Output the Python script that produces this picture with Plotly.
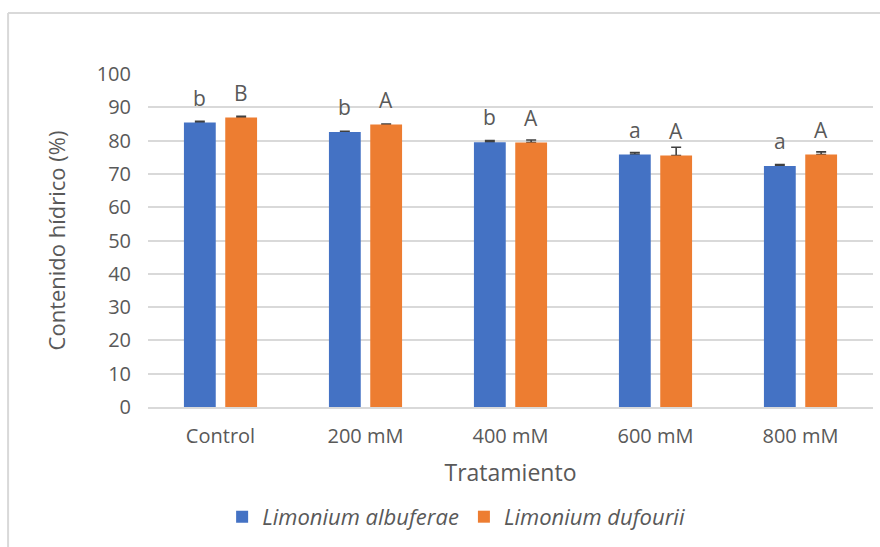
import plotly.graph_objects as go

# Treatments and water-content means (%) with their standard errors
tratamientos = ["Control", "200 mM", "400 mM", "600 mM", "800 mM"]
albuferae = [85.4, 82.6, 79.5, 75.8, 72.4]
albuferae_err = [0.4, 0.2, 0.5, 0.6, 0.4]
dufourii = [86.9, 84.8, 79.4, 75.5, 75.8]
dufourii_err = [0.4, 0.2, 0.8, 2.5, 0.8]
letras_albuferae = ["b", "b", "b", "a", "a"]
letras_dufourii = ["B", "A", "A", "A", "A"]

AZUL = "#4472C4"
NARANJA = "#ED7D31"
GRIS_TEXTO = "#595959"
GRIS_REJILLA = "#D9D9D9"
FUENTE = "Open Sans"

BARGAP = 0.43
BARGROUPGAP = 0.23

series = [
    ("<i>Limonium albuferae</i>", albuferae, albuferae_err, AZUL, "alb"),
    ("<i>Limonium dufourii</i>", dufourii, dufourii_err, NARANJA, "duf"),
]

fig = go.Figure()
# Upper error bars first (in transparent bars), so the solid bars cover their base
for nombre, valores, errores, color, grupo in series:
    fig.add_trace(go.Bar(
        x=tratamientos, y=valores, offsetgroup=grupo, showlegend=False,
        marker=dict(color="rgba(0,0,0,0)", line=dict(width=0)),
        hoverinfo="skip",
        error_y=dict(type="data", array=errores,
                     arrayminus=[0] * len(errores), symmetric=False,
                     visible=True, color="#404040", thickness=1.6, width=5),
    ))
for nombre, valores, errores, color, grupo in series:
    fig.add_trace(go.Bar(
        x=tratamientos, y=valores, name=nombre, offsetgroup=grupo,
        marker=dict(color=color, line=dict(width=0)),
    ))

# Significance letters above each bar
slot = (1 - BARGAP) / 2
for i in range(len(tratamientos)):
    for valor, letra, desplaz in [(albuferae[i], letras_albuferae[i], -slot / 2),
                                  (dufourii[i], letras_dufourii[i], slot / 2)]:
        fig.add_annotation(
            x=i + desplaz, y=valor, xref="x", yref="y", text=letra,
            showarrow=False, yanchor="bottom", yshift=9,
            font=dict(family=FUENTE, size=21, color=GRIS_TEXTO),
        )

# Light frame around the chart area
fig.add_shape(type="line", xref="paper", yref="paper",
              x0=-0.193, x1=-0.193, y0=1.183, y1=-0.6,
              line=dict(color=GRIS_REJILLA, width=2))
fig.add_shape(type="line", xref="paper", yref="paper",
              x0=-0.193, x1=1.2, y0=1.183, y1=1.183,
              line=dict(color=GRIS_REJILLA, width=2))

fig.update_layout(
    width=880, height=547,
    margin=dict(l=148, r=7, t=74, b=140),
    paper_bgcolor="white", plot_bgcolor="white",
    barmode="group", bargap=BARGAP, bargroupgap=BARGROUPGAP,
    font=dict(family=FUENTE, color=GRIS_TEXTO, size=21),
    showlegend=True,
    legend=dict(orientation="h", x=0.425, y=-0.33, xanchor="center",
                yanchor="middle", font=dict(size=22, color=GRIS_TEXTO),
                itemwidth=30, traceorder="normal"),
    xaxis=dict(
        showgrid=False, showline=True, linecolor=GRIS_REJILLA, linewidth=2,
        ticks="", ticklabelstandoff=10,
        tickfont=dict(size=20, color=GRIS_TEXTO),
        title=dict(text="Tratamiento", font=dict(size=23, color=GRIS_TEXTO),
                   standoff=17),
    ),
    yaxis=dict(
        range=[0, 100], tickmode="linear", tick0=0, dtick=10,
        showgrid=True, gridcolor=GRIS_REJILLA, gridwidth=2,
        zeroline=False, showline=False, ticks="",
        ticklabelstandoff=16,
        tickfont=dict(size=20, color=GRIS_TEXTO),
        title=dict(text="Contenido hídrico (%)",
                   font=dict(size=22, color=GRIS_TEXTO), standoff=24),
    ),
)

fig.write_html("out.html")
